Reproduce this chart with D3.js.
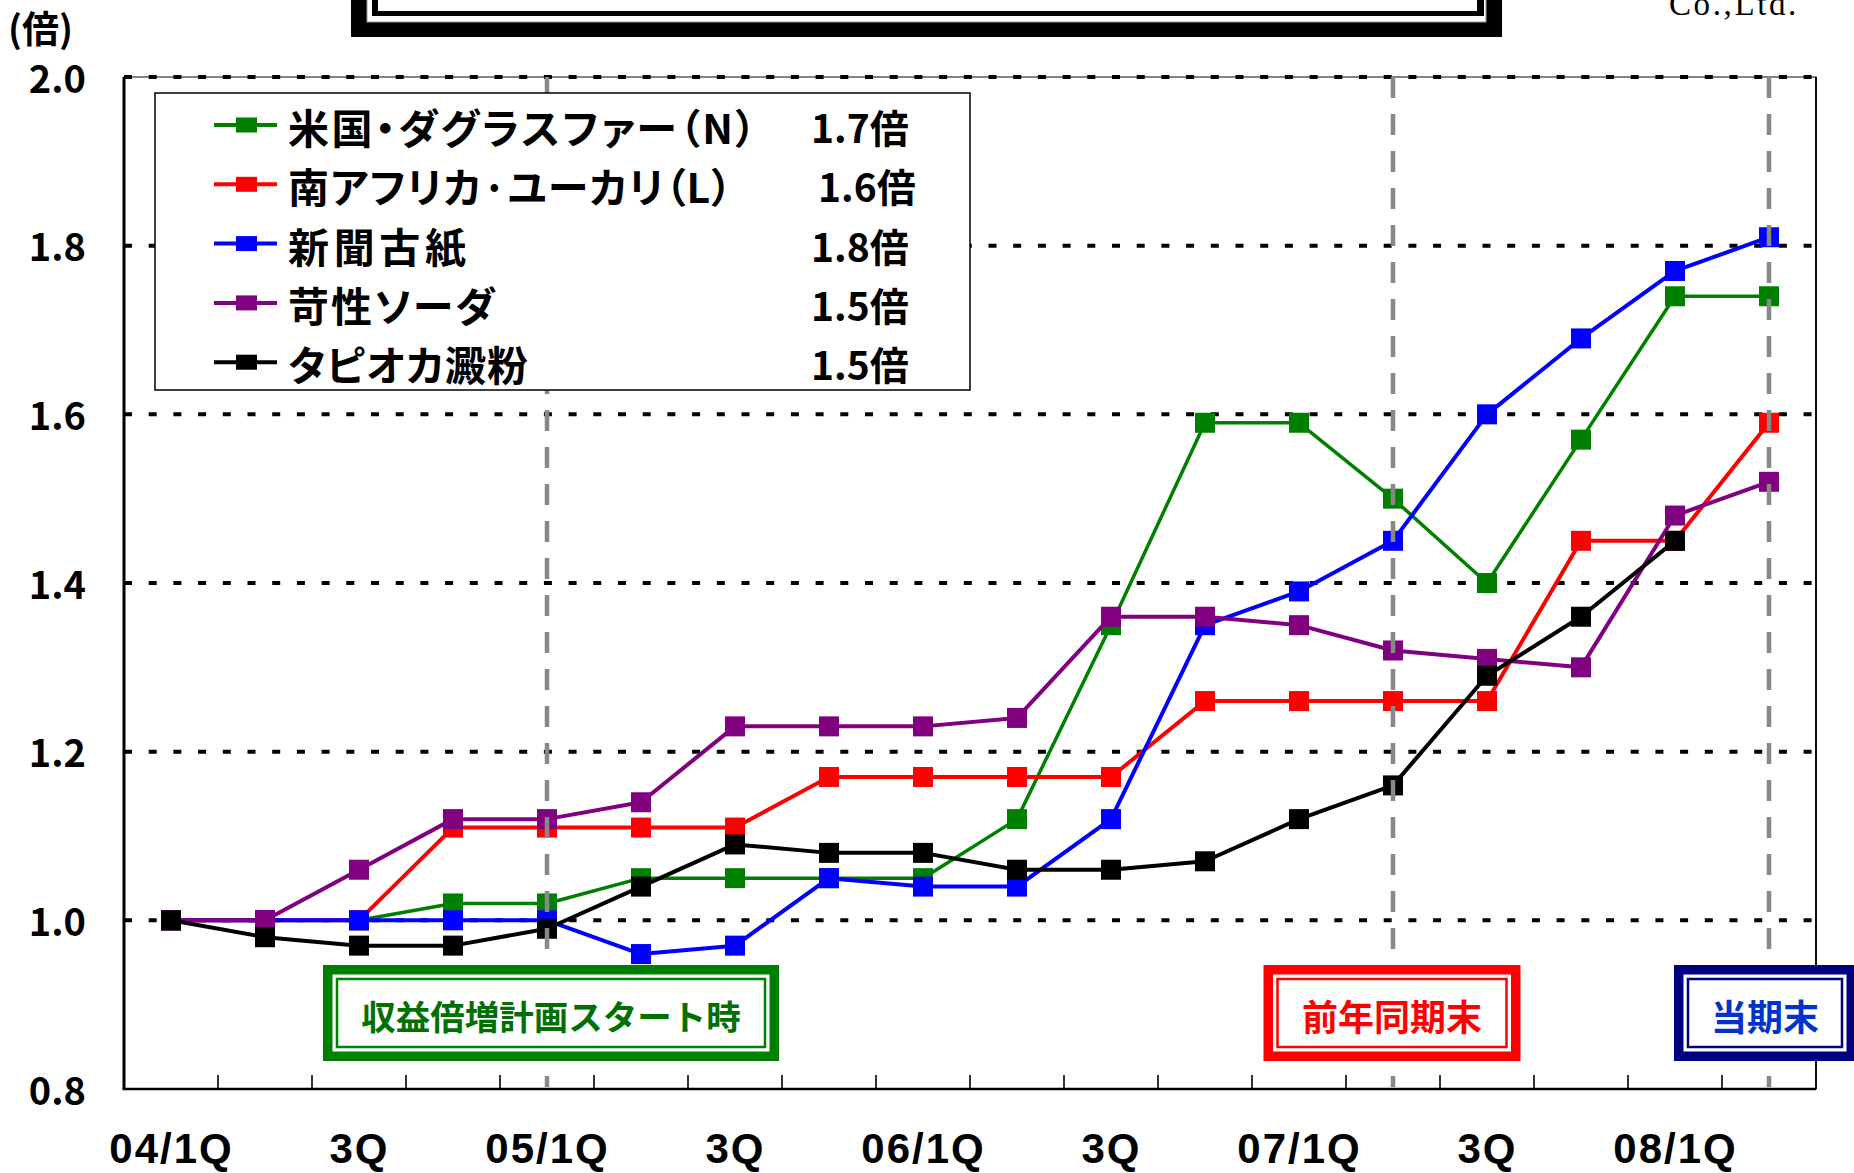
<!DOCTYPE html>
<html lang="ja">
<head>
<meta charset="utf-8">
<script src="https://cdn.jsdelivr.net/npm/d3@7"></script>
<style>
  body { margin: 0; background: #fff; }
  svg { display: block; }
  text { font-family: "Noto Sans CJK JP", "Noto Sans", sans-serif; font-weight: bold; }
</style>
</head>
<body>
<svg id="chart"></svg>
<script>
// quarters on the x axis (04/1Q .. 08/2Q)
const quarters = ["04/1Q", "04/2Q", "04/3Q", "04/4Q", "05/1Q", "05/2Q", "05/3Q", "05/4Q",
  "06/1Q", "06/2Q", "06/3Q", "06/4Q", "07/1Q", "07/2Q", "07/3Q", "07/4Q", "08/1Q", "08/2Q"];
const quarterLabels = ["04/1Q", "", "3Q", "", "05/1Q", "", "3Q", "", "06/1Q", "", "3Q", "",
  "07/1Q", "", "3Q", "", "08/1Q", ""];
const yTicks = [0.8, 1.0, 1.2, 1.4, 1.6, 1.8, 2.0];

const seriesNames = ["米国・ダグラスファー（N）", "南アフリカ·ユーカリ（L）", "新聞古紙", "苛性ソーダ", "タピオカ澱粉"];
const seriesMultiples = ["1.7倍", "1.6倍", "1.8倍", "1.5倍", "1.5倍"];

const douglasFir  = [1.00, 1.00, 1.00, 1.02, 1.02, 1.05, 1.05, 1.05, 1.05, 1.12, 1.35, 1.59, 1.59, 1.50, 1.40, 1.57, 1.74, 1.74];
const eucalyptus  = [1.00, 1.00, 1.00, 1.11, 1.11, 1.11, 1.11, 1.17, 1.17, 1.17, 1.17, 1.26, 1.26, 1.26, 1.26, 1.45, 1.45, 1.59];
const wastePaper  = [1.00, 1.00, 1.00, 1.00, 1.00, 0.96, 0.97, 1.05, 1.04, 1.04, 1.12, 1.35, 1.39, 1.45, 1.60, 1.69, 1.77, 1.81];
const causticSoda = [1.00, 1.00, 1.06, 1.12, 1.12, 1.14, 1.23, 1.23, 1.23, 1.24, 1.36, 1.36, 1.35, 1.32, 1.31, 1.30, 1.48, 1.52];
const tapioca     = [1.00, 0.98, 0.97, 0.97, 0.99, 1.04, 1.09, 1.08, 1.08, 1.06, 1.06, 1.07, 1.12, 1.16, 1.29, 1.36, 1.45, null];

// vertical reference lines and the notes under them
const markerQuarters = ["05/1Q", "07/2Q", "08/2Q"];
const noteTexts = ["収益倍増計画スタート時", "前年同期末", "当期末"];

((() => {
  const W = 1854, H = 1173;
  const plot = { left: 124, right: 1816, top: 77, bottom: 1089 };
  const colors = ["#008000", "#ff0000", "#0000ff", "#800080", "#000000"];
  const allSeries = [douglasFir, eucalyptus, wastePaper, causticSoda, tapioca];
  const legendTextWidths = [468, 444, 178, 207, 240]; // widths of the legend names as drawn

  const svg = d3.select("#chart").attr("width", W).attr("height", H);

  const x = d3.scalePoint().domain(quarters).range([plot.left, plot.right]).padding(0.5);
  const xBand = d3.scaleBand().domain(quarters).range([plot.left, plot.right]);
  const y = d3.scaleLinear().domain([0.8, 2.0]).range([plot.bottom, plot.top]);

  // title frame, cut off at the top of the picture
  const frame = svg.append("g");
  frame.append("rect").attr("x", 351).attr("y", -60).attr("width", 1151).attr("height", 97).attr("fill", "#000");
  frame.append("rect").attr("x", 367).attr("y", -60).attr("width", 1119).attr("height", 82)
    .attr("fill", "#fff").attr("stroke", "#999").attr("stroke-width", 1);
  frame.append("rect").attr("x", 372).attr("y", -60).attr("width", 1112).attr("height", 76).attr("fill", "#000");
  frame.append("rect").attr("x", 378).attr("y", -60).attr("width", 1099).attr("height", 71).attr("fill", "#fff");

  svg.append("text")
    .attr("x", 1669).attr("y", 15)
    .style("font-family", "'Liberation Serif', serif")
    .style("font-weight", "normal")
    .style("font-size", "33px")
    .style("letter-spacing", "2.6px")
    .text("Co.,Ltd.");

  // unit label
  svg.append("text")
    .attr("x", 8).attr("y", 43)
    .style("font-size", "37px")
    .text("(倍)");

  // plot frame
  svg.append("rect")
    .attr("x", plot.left).attr("y", plot.top)
    .attr("width", plot.right - plot.left).attr("height", plot.bottom - plot.top)
    .attr("fill", "none").attr("stroke", "#333").attr("stroke-width", 1.2);

  // dotted gridlines
  svg.append("g").selectAll("line")
    .data(yTicks.filter(d => d > 0.8))
    .enter().append("line")
    .attr("x1", plot.left).attr("x2", plot.right)
    .attr("y1", d => y(d)).attr("y2", d => y(d))
    .attr("stroke", "#000").attr("stroke-width", 4)
    .attr("stroke-dasharray", "8,16.7");

  // axes lines and ticks
  svg.append("line")
    .attr("x1", plot.left).attr("x2", plot.left).attr("y1", plot.top).attr("y2", plot.bottom)
    .attr("stroke", "#000").attr("stroke-width", 3);
  svg.append("line")
    .attr("x1", plot.right).attr("x2", plot.right).attr("y1", plot.top).attr("y2", plot.bottom)
    .attr("stroke", "#000").attr("stroke-width", 1.8);
  svg.append("line")
    .attr("x1", plot.left - 1.5).attr("x2", plot.right).attr("y1", plot.bottom).attr("y2", plot.bottom)
    .attr("stroke", "#000").attr("stroke-width", 2.5);
  svg.append("g").selectAll("line")
    .data(quarters.slice(1))
    .enter().append("line")
    .attr("x1", d => xBand(d)).attr("x2", d => xBand(d))
    .attr("y1", plot.bottom).attr("y2", plot.bottom - 14)
    .attr("stroke", "#000").attr("stroke-width", 1.6);

  // series
  const line = d3.line()
    .defined(d => d != null)
    .x((d, i) => x(quarters[i]))
    .y(d => y(d));

  allSeries.forEach((values, k) => {
    const g = svg.append("g");
    g.append("path")
      .datum(values)
      .attr("d", line)
      .attr("fill", "none")
      .attr("stroke", colors[k])
      .attr("stroke-width", k === 0 ? 3.5 : 4)
      .attr("stroke-linejoin", "round");
    g.selectAll("rect")
      .data(values.map((v, i) => ({ q: quarters[i], v })).filter(d => d.v != null))
      .enter().append("rect")
      .attr("x", d => x(d.q) - 10)
      .attr("y", d => y(d.v) - 10)
      .attr("width", 20).attr("height", 20)
      .attr("fill", colors[k]);
  });

  // gray dashed reference lines
  svg.append("g").selectAll("line")
    .data(markerQuarters)
    .enter().append("line")
    .attr("x1", d => x(d)).attr("x2", d => x(d))
    .attr("y1", plot.top).attr("y2", plot.bottom - 2)
    .attr("stroke", "#888").attr("stroke-width", 4.5)
    .attr("stroke-dasharray", "21,16");

  // legend
  const legend = svg.append("g");
  legend.append("rect")
    .attr("x", 155).attr("y", 93).attr("width", 815).attr("height", 297)
    .attr("fill", "#fff").attr("stroke", "#000").attr("stroke-width", 1.5);
  const rows = legend.selectAll("g.row")
    .data(seriesNames)
    .enter().append("g")
    .attr("class", "row")
    .attr("transform", (d, i) => `translate(0,${125 + i * 59.3})`);
  rows.append("line")
    .attr("x1", 214).attr("x2", 277)
    .attr("stroke", (d, i) => colors[i]).attr("stroke-width", 4);
  rows.append("rect")
    .attr("x", 236).attr("y", -7.5).attr("width", 21).attr("height", 15)
    .attr("fill", (d, i) => colors[i]);
  rows.append("text")
    .attr("x", 288).attr("y", 1)
    .attr("dominant-baseline", "central")
    .attr("textLength", (d, i) => legendTextWidths[i])
    .attr("lengthAdjust", "spacing")
    .style("font-size", "41px")
    .style("font-feature-settings", "'palt'")
    .text(d => d);
  rows.append("text")
    .attr("x", (d, i) => i === 1 ? 818 : 811).attr("y", 1)
    .attr("dominant-baseline", "central")
    .style("font-size", "39px")
    .text((d, i) => seriesMultiples[i]);

  // framed notes under the reference lines
  const notes = [
    { q: markerQuarters[0], dx: 4, w: 456, border: "#008000", textColor: "#007000" },
    { q: markerQuarters[1], dx: -1, w: 257, border: "#ff0000", textColor: "#ff0000" },
    { q: markerQuarters[2], dx: -4, w: 182, border: "#000080", textColor: "#0033cc" },
  ];
  const noteG = svg.append("g").selectAll("g")
    .data(notes)
    .enter().append("g")
    .attr("transform", d => `translate(${x(d.q) + d.dx},965)`);
  noteG.append("rect")
    .attr("x", d => -d.w / 2).attr("y", 0).attr("width", d => d.w).attr("height", 96)
    .attr("fill", d => d.border);
  noteG.append("rect")
    .attr("x", d => -d.w / 2 + 9.5).attr("y", 9.5).attr("width", d => d.w - 19).attr("height", 77)
    .attr("fill", "#fff");
  noteG.append("rect")
    .attr("x", d => -d.w / 2 + 14).attr("y", 14).attr("width", d => d.w - 28).attr("height", 68)
    .attr("fill", "none").attr("stroke", d => d.border).attr("stroke-width", 2.5);
  noteG.append("text")
    .attr("x", 0).attr("y", 50)
    .attr("text-anchor", "middle")
    .attr("dominant-baseline", "central")
    .style("font-size", (d, i) => i === 0 ? "34.5px" : "36px")
    .attr("fill", d => d.textColor)
    .text((d, i) => noteTexts[i]);

  // tick labels
  const xAxis = svg.append("g")
    .attr("transform", `translate(0,${plot.bottom})`)
    .call(d3.axisBottom(x).tickSize(0).tickPadding(0).tickFormat((d, i) => quarterLabels[i]));
  xAxis.select(".domain").remove();
  xAxis.selectAll("text")
    .attr("y", 74)
    .attr("dy", null)
    .style("font-family", "'Liberation Sans', Arial, sans-serif")
    .style("font-weight", "bold")
    .style("font-size", "42px")
    .style("letter-spacing", "2px")
    .attr("fill", "#000");

  const yAxis = svg.append("g")
    .attr("transform", `translate(${plot.left},3)`)
    .call(d3.axisLeft(y).tickValues(yTicks).tickSize(0).tickPadding(38).tickFormat(d3.format(".1f")));
  yAxis.select(".domain").remove();
  yAxis.selectAll("text")
    .style("font-family", "'Noto Sans CJK JP', sans-serif")
    .style("font-weight", "bold")
    .style("font-size", "38px")
    .attr("fill", "#000");
})());
</script>
</body>
</html>
